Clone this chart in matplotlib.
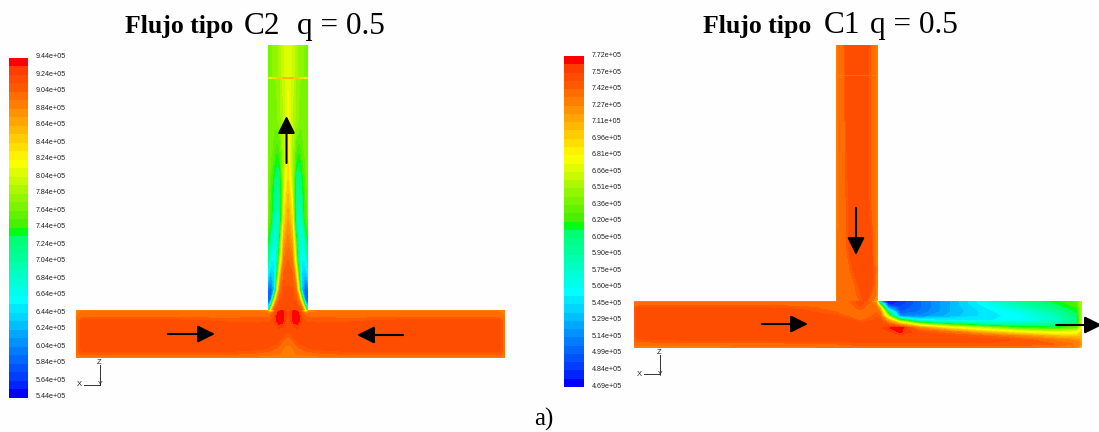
import numpy as np
import matplotlib
matplotlib.use("Agg")
import matplotlib.pyplot as plt
from matplotlib.colors import LinearSegmentedColormap

# colour bar labels
left_labels = ["9.44e+05", "9.24e+05", "9.04e+05", "8.84e+05", "8.64e+05", "8.44e+05", "8.24e+05",
               "8.04e+05", "7.84e+05", "7.64e+05", "7.44e+05", "7.24e+05", "7.04e+05", "6.84e+05",
               "6.64e+05", "6.44e+05", "6.24e+05", "6.04e+05", "5.84e+05", "5.64e+05", "5.44e+05"]
right_labels = ["7.72e+05", "7.57e+05", "7.42e+05", "7.27e+05", "7.11e+05", "6.96e+05", "6.81e+05",
                "6.66e+05", "6.51e+05", "6.36e+05", "6.20e+05", "6.05e+05", "5.90e+05", "5.75e+05",
                "5.60e+05", "5.45e+05", "5.29e+05", "5.14e+05", "4.99e+05", "4.84e+05", "4.69e+05"]

# field values, 0 = bottom of the colour bar, 1 = top
# left T, vertical pipe: half width offsets from the axis
lv_off = [0, 4, 8, 11, 14, 17, 20]
lv_y = [45, 77, 78, 79, 120, 150, 180, 220, 260, 290, 300, 310]
lv_val = [
    [.67, .65, .61, .59, .58, .57, .57],
    [.67, .65, .61, .59, .58, .57, .57],
    [.78, .78, .76, .75, .74, .70, .62],
    [.67, .64, .60, .58, .57, .57, .57],
    [.69, .63, .59, .57, .56, .56, .56],
    [.71, .62, .53, .50, .53, .56, .57],
    [.75, .62, .45, .43, .47, .52, .57],
    [.82, .74, .40, .35, .38, .50, .55],
    [.90, .88, .62, .36, .27, .28, .42],
    [.93, .93, .88, .62, .22, .10, .13],
    [.93, .93, .92, .86, .60, .15, .08],
    [.95, .95, .95, .94, .93, .70, .30],
]

# left T, horizontal pipe
lh_off_l = [0, 3, 6, 9, 12, 15, 18, 22, 30, 60, 120, 206, 212]
lh_off_r = [0, 3, 6, 9, 12, 15, 18, 22, 30, 60, 120, 211, 217]
lh_y = [310, 313, 317, 321, 325, 330, 336, 342, 348, 353, 358]
lh_val = [
    [.95, .95, .97, .94, .90, .72, .45, .82, .87, .87, .87, .87, .87],
    [.94, .96, 1.0, 1.0, .94, .90, .85, .88, .88, .88, .88, .88, .87],
    [.94, .96, 1.0, 1.0, .97, .92, .90, .90, .90, .89, .90, .90, .87],
    [.94, .95, 1.0, 1.0, .97, .94, .92, .92, .91, .92, .94, .94, .88],
    [.94, .94, .96, .97, .94, .94, .94, .94, .94, .94, .94, .94, .88],
    [.94, .94, .94, .94, .94, .94, .94, .94, .94, .94, .94, .94, .88],
    [.90, .91, .94, .94, .94, .94, .94, .94, .94, .94, .94, .94, .88],
    [.88, .89, .90, .92, .94, .94, .94, .94, .94, .94, .94, .94, .88],
    [.87, .87, .88, .89, .90, .91, .92, .93, .94, .94, .94, .94, .88],
    [.87, .87, .87, .88, .88, .88, .89, .89, .90, .92, .92, .92, .88],
    [.86, .86, .86, .86, .86, .86, .86, .86, .86, .86, .86, .86, .86],
]

# right T, vertical pipe
rv_x = [836, 839, 844, 846, 850, 855, 860, 865, 868, 871, 875, 878]
rv_y = [45, 74, 75.5, 77, 200, 250, 270, 285, 295, 301]
rv_val = [
    [.86, .88, .89, .94, .94, .94, .94, .94, .94, .89, .88, .86],
    [.86, .88, .89, .94, .94, .94, .94, .94, .94, .89, .88, .86],
    [.85, .86, .87, .87, .87, .87, .87, .87, .87, .87, .86, .85],
    [.86, .88, .89, .94, .94, .94, .94, .94, .94, .89, .88, .86],
    [.86, .88, .89, .90, .94, .94, .94, .94, .94, .89, .88, .86],
    [.87, .88, .89, .89, .94, .94, .94, .94, .94, .94, .88, .86],
    [.87, .88, .89, .89, .90, .94, .94, .94, .94, .94, .89, .85],
    [.87, .88, .89, .89, .89, .90, .94, .94, .94, .94, .89, .84],
    [.87, .88, .88, .89, .89, .89, .92, .94, .94, .90, .88, .80],
    [.87, .88, .88, .88, .89, .89, .90, .94, .90, .89, .86, .78],
]

# right T, horizontal pipe
rh_x = [634, 638, 700, 800, 836, 850, 860, 870, 876, 880, 888, 900, 920, 950, 985, 1020, 1055, 1077, 1082]
rh_y = [301, 304, 308, 312, 316, 320, 324, 328, 332, 336, 340, 344, 348]
rh_val = [
    [.87, .87, .87, .87, .87, .90, .94, .90, .78, .15, .01, .05, .12, .20, .30, .42, .49, .53, .62],
    [.88, .88, .88, .88, .88, .89, .94, .89, .86, .50, .04, .06, .12, .20, .29, .40, .47, .52, .62],
    [.89, .94, .94, .92, .88, .88, .91, .88, .89, .78, .20, .08, .12, .20, .27, .35, .44, .50, .62],
    [.89, .94, .94, .94, .90, .88, .89, .88, .90, .87, .45, .10, .13, .20, .26, .31, .40, .48, .62],
    [.89, .94, .94, .94, .93, .89, .89, .89, .92, .90, .62, .15, .16, .21, .26, .29, .37, .46, .62],
    [.89, .94, .94, .94, .94, .93, .89, .92, .93, .93, .80, .52, .28, .27, .27, .29, .35, .45, .62],
    [.89, .94, .94, .94, .94, .94, .94, .94, .94, .94, .91, .80, .60, .48, .40, .37, .40, .48, .65],
    [.89, .94, .94, .94, .94, .94, .94, .94, .94, .94, .97, 1.0, .85, .72, .62, .52, .50, .55, .70],
    [.89, .94, .94, .94, .94, .94, .94, .94, .94, .94, .94, .98, .93, .88, .78, .70, .65, .68, .75],
    [.89, .94, .94, .94, .94, .94, .94, .94, .94, .94, .94, .94, .94, .93, .90, .85, .78, .76, .78],
    [.89, .92, .93, .94, .94, .94, .94, .94, .94, .94, .94, .94, .94, .94, .94, .92, .87, .84, .80],
    [.88, .88, .88, .89, .90, .91, .92, .92, .92, .92, .92, .92, .92, .92, .92, .92, .90, .87, .82],
    [.87, .87, .87, .87, .87, .87, .87, .87, .87, .87, .87, .87, .87, .87, .87, .87, .86, .84, .72],
]

# flow arrows: tail x, tail y, head x, head y
arrows = [(286.5, 163, 286.5, 116), (168, 334, 215, 334), (403, 335, 357, 335),
          (856, 208, 856, 255), (762, 324, 808, 324), (1056, 325, 1102, 325)]

anchors = [(0, (0, 0, 255)), (.026, (0, 40, 255)), (.28, (0, 255, 255)), (.47, (0, 255, 110)),
           (.49, (0, 255, 0)), (.51, (70, 240, 0)), (.70, (255, 255, 0)), (.93, (255, 85, 0)),
           (.975, (255, 65, 0)), (1, (255, 0, 0))]
fluent = LinearSegmentedColormap.from_list("fluent", [(p, tuple(c / 255 for c in rgb)) for p, rgb in anchors])
n_bands = 40
band_colors = [fluent(i / (n_bands - 1)) for i in range(n_bands)]
levels = np.linspace(0, 1.001, n_bands + 1)

fig = plt.figure(figsize=(10.99, 4.32), dpi=100, facecolor="#fefefe")
ax = fig.add_axes([0, 0, 1, 1])
ax.axis("off")


def field(x, y, z):
    ax.contourf(x, y, np.array(z), levels=levels, colors=band_colors, antialiased=False)


def colorbar(x0, x1, y0, y1, labels, label_x):
    edges = np.linspace(y1, y0, n_bands + 1)
    ax.pcolormesh([x0, x1], edges, np.arange(n_bands).reshape(-1, 1), cmap=fluent, shading="flat")
    for lab, yy in zip(labels, np.linspace(y0 - 0.5, y1 - 1, len(labels))):
        ax.text(label_x, yy, lab, fontsize=5.1, family="Liberation Sans", va="center", ha="left", color="#222222")


def triad(x, y, top):
    ax.plot([x - 16, x], [y, y], color="#333333", lw=0.7)
    ax.plot([x, x], [y, top], color="#333333", lw=0.7)
    ax.text(x - 21, y, "X", fontsize=5.5, family="Liberation Sans", ha="center", va="center", color="#222222")
    ax.text(x, y, "Y", fontsize=5, family="Liberation Sans", ha="center", va="center", color="#222222")
    ax.text(x - 1, top - 3, "Z", fontsize=5.5, family="Liberation Sans", ha="center", va="center", color="#222222")


# left T
lv_half = np.array(lv_val)
lv_x = np.r_[288 - np.array(lv_off[::-1]), 288 + np.array(lv_off[1:])]
field(lv_x, lv_y, np.c_[lv_half[:, ::-1], lv_half[:, 1:]])
lh_half = np.array(lh_val)
lh_x = np.r_[288 - np.array(lh_off_l[::-1]), 288 + np.array(lh_off_r[1:])]
field(lh_x, lh_y, np.c_[lh_half[:, ::-1], lh_half[:, 1:]])

# right T
field(rv_x, rv_y, rv_val)
field(rh_x, rh_y, rh_val)

colorbar(9, 28, 57.5, 398, left_labels, 35.5)
colorbar(564, 584, 56, 387, right_labels, 592)
triad(100, 385, 365)
triad(660, 374, 355)

for x0, y0, x1, y1 in arrows:
    ax.annotate("", xy=(x1, y1), xytext=(x0, y0), annotation_clip=False,
                arrowprops=dict(arrowstyle="-|>,head_length=1.05,head_width=0.52", color="black", lw=1.5,
                                shrinkA=0, shrinkB=0, mutation_scale=10))

serif = "Liberation Serif"
ax.text(125, 33, "Flujo tipo", family=serif, weight="bold", fontsize=18.5)
ax.text(244, 34, "C2", family=serif, fontsize=22.5)
ax.text(297, 34, "q = 0.5", family=serif, fontsize=22.5)
ax.text(703, 33, "Flujo tipo", family=serif, weight="bold", fontsize=18.5)
ax.text(824, 33, "C1", family=serif, fontsize=22.5)
ax.text(870, 33, "q = 0.5", family=serif, fontsize=22.5)
ax.text(534, 426, "a)", family=serif, fontsize=18)

ax.set_xlim(0, 1099)
ax.set_ylim(432, 0)
fig.savefig("out.png", dpi=100, facecolor=fig.get_facecolor())
